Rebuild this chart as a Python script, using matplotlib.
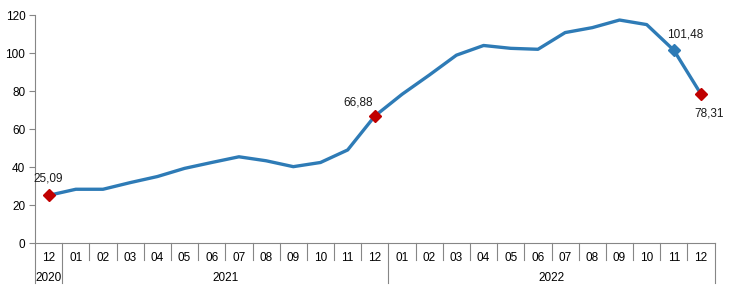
import matplotlib.pyplot as plt
import matplotlib.transforms as mtransforms

plt.rcParams["font.family"] = ["Liberation Sans", "DejaVu Sans"]

months = ["12", "01", "02", "03", "04", "05", "06", "07", "08", "09", "10", "11", "12",
          "01", "02", "03", "04", "05", "06", "07", "08", "09", "10", "11", "12"]
years = ["2020", "2021", "2022"]
year_sizes = [1, 12, 12]
values = [25.09, 28.3, 28.3, 31.8, 35.0, 39.3, 42.4, 45.4, 43.3, 40.2, 42.4, 49.0, 66.88,
          78.3, 88.4, 98.9, 104.0, 102.5, 102.0, 110.8, 113.4, 117.4, 115.0, 101.48, 78.31]

# highlighted points: index -> (label, colour, offset in points)
highlights = {
    0: ("25,09", "#C00000", (0, 12)),
    12: ("66,88", "#C00000", (-12, 10)),
    23: ("101,48", "#2E7BB6", (8, 11)),
    24: ("78,31", "#C00000", (6, -14)),
}

line_color = "#2E7BB6"
axis_color = "#868686"

fig = plt.figure(figsize=(7.3, 2.96), dpi=100)
ax = fig.add_axes([0.048, 0.179, 0.931, 0.770])

x = list(range(len(values)))
ax.plot(x, values, color=line_color, linewidth=2.4, solid_joinstyle="round", zorder=2)

for i, (label, color, off) in highlights.items():
    ax.plot(x[i], values[i], marker="D", markersize=6.3, color=color, zorder=3)
    ax.annotate(label, (x[i], values[i]), xytext=off, textcoords="offset points",
                ha="center", va="center", fontsize=8.5, color="#1a1a1a")

ax.set_xlim(-0.5, len(values) - 0.5)
ax.set_ylim(0, 120)
ax.set_yticks(range(0, 121, 20))
ax.tick_params(axis="y", length=4, color=axis_color, labelsize=8.5, pad=3)
ax.set_xticks([])

for side in ["top", "right"]:
    ax.spines[side].set_visible(False)
ax.spines["left"].set_color(axis_color)
ax.spines["bottom"].set_color(axis_color)

trans = mtransforms.blended_transform_factory(ax.transData, ax.transAxes)

# month labels
for i, m in enumerate(months):
    ax.text(i, -0.065, m, transform=trans, ha="center", va="center", fontsize=8.5, clip_on=False)

# separators
year_bounds = [-0.5]
for s in year_sizes:
    year_bounds.append(year_bounds[-1] + s)
for b in [i - 0.5 for i in range(len(values) + 1)]:
    low = -0.175 if b in year_bounds else -0.075
    ax.plot([b, b], [0, low], transform=trans, color=axis_color, linewidth=0.8, clip_on=False)

# year labels
for j, yr in enumerate(years):
    c = (year_bounds[j] + year_bounds[j + 1]) / 2
    ax.text(c, -0.152, yr, transform=trans, ha="center", va="center", fontsize=8.5, clip_on=False)

fig.savefig("out.png", dpi=100)
